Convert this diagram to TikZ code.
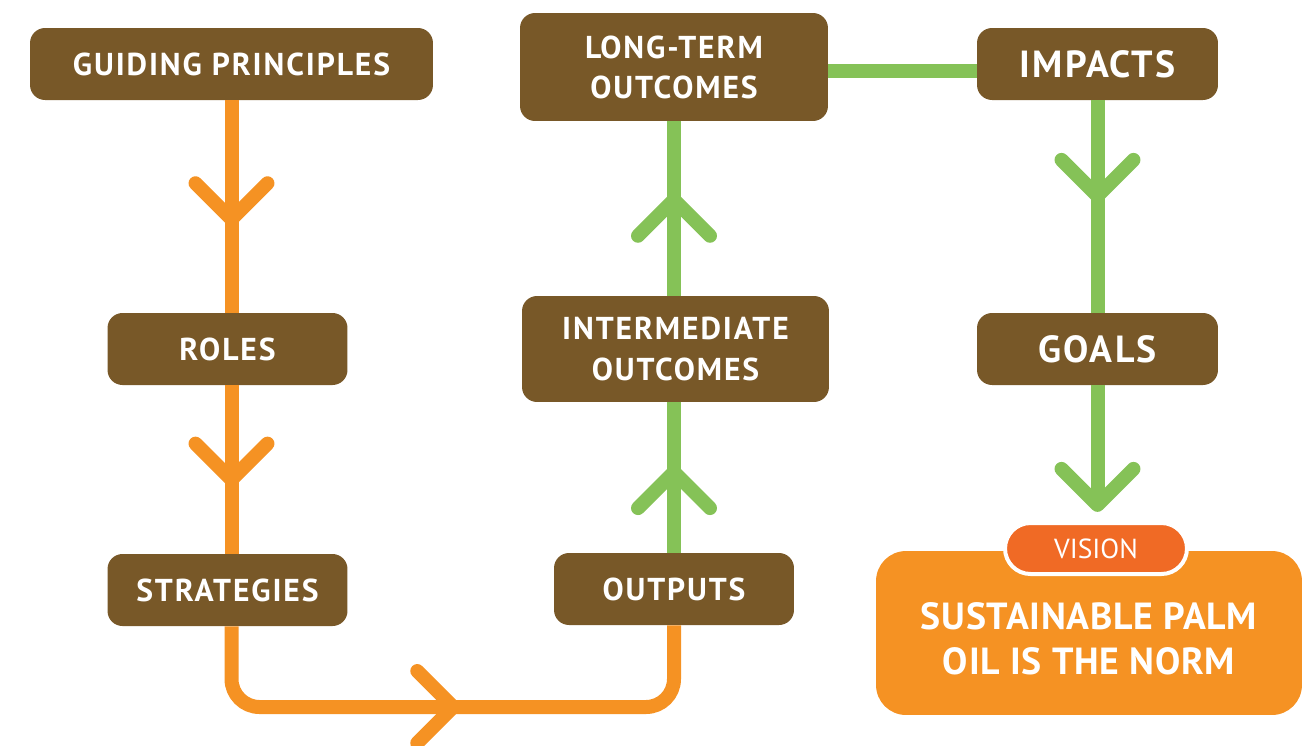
\documentclass[tikz,border=0pt]{standalone}
\usepackage{fontspec}
\usetikzlibrary{positioning,calc,decorations.markings}
\newfontfamily\boxfont[LetterSpace=6]{PT Sans}
\newfontfamily\visfont[LetterSpace=2]{PT Sans}
\definecolor{rsbrown}{RGB}{120,88,40}
\definecolor{rsorange}{RGB}{245,146,35}
\definecolor{rsgreen}{RGB}{133,194,87}
\definecolor{rstab}{RGB}{240,106,37}

\begin{document}
\begin{tikzpicture}[
    x=0.02cm, y=-0.02cm,
    stage/.style={rectangle, rounded corners=0.3cm, fill=rsbrown, text=white, align=center, inner sep=0pt,
        minimum width=4.8cm, minimum height=1.44cm, font=\boxfont\bfseries\fontsize{18}{22.8}\selectfont},
    bigstage/.style={stage, font=\boxfont\bfseries\fontsize{21.5}{26}\selectfont},
    orangeline/.style={line width=0.28cm, rsorange},
    greenline/.style={line width=0.28cm, rsgreen},
    chev/.style 2 args={postaction={decorate, decoration={markings, mark=at position #1 with {
        \draw[#2, sharp corners, line width=0.28cm, line cap=round, line join=round] (-0.72cm,0.72cm) -- (0,0) -- (-0.72cm,-0.72cm);}}}}
]
\useasboundingbox (0,0) rectangle (1313,745);

% Left column
\node[stage, minimum width=8.06cm] (gp) at (231.5,64) {GUIDING PRINCIPLES};
\node[stage] (roles) at (227.5,349) {ROLES};
\node[stage] (strat) at (227.5,590) {STRATEGIES};

% Middle column
\node[stage] (outputs) at (674,589) {OUTPUTS};
\node[stage, minimum width=6.14cm, minimum height=2.12cm] (inter) at (675.5,349) {INTERMEDIATE\\OUTCOMES};
\node[stage, minimum width=6.16cm, minimum height=2.16cm] (longterm) at (674,67) {LONG-TERM\\OUTCOMES};

% Right column
\node[bigstage, minimum width=4.82cm] (impacts) at (1097.5,64) {IMPACTS};
\node[bigstage, minimum width=4.82cm] (goals) at (1097.5,349) {GOALS};

% Vision
\node[rectangle, rounded corners=0.6cm, fill=rsorange, text=white, align=center,
    minimum width=8.52cm, minimum height=3.28cm, font=\visfont\bfseries\fontsize{21.5}{25.6}\selectfont]
    (vision) at (1089,633) {\\[-3.7pt]SUSTAINABLE PALM\\OIL IS THE NORM};
\node[rectangle, rounded corners=0.51cm, fill=rstab, draw=white, line width=0.08cm, text=white,
    minimum width=3.64cm, minimum height=1.02cm, font=\fontspec{PT Sans}\fontsize{15.7}{18}\selectfont]
    (vtab) at (1096,548.5) {VISION};

% Orange path
\draw[orangeline, chev={0.56}{rsorange}] (gp.south) -- (gp.south |- roles.north);
\draw[orangeline, chev={0.56}{rsorange}] (roles.south -| gp.south) -- (gp.south |- strat.north);
\draw[orangeline, rounded corners=0.56cm, chev={0.50}{rsorange}]
    (strat.south -| gp.south) -- (gp.south |- 0,707) -- (outputs.south |- 0,707) -- (outputs.south);

% Green path
\draw[greenline, chev={0.536}{rsgreen}] (outputs.north) -- (outputs.north |- inter.south);
\draw[greenline, chev={0.55}{rsgreen}] (inter.north -| outputs.north) -- (outputs.north |- longterm.south);
\draw[greenline] ($(longterm.east)+(0,4)$) -- ($(longterm.east -| impacts.west)+(0,4)$);
\draw[greenline, chev={0.45}{rsgreen}] (impacts.south) -- (impacts.south |- goals.north);
\draw[greenline, chev={0.999}{rsgreen}] (goals.south) -- ($(goals.south |- vtab.north)+(0,-16)$);

\end{tikzpicture}
\end{document}
